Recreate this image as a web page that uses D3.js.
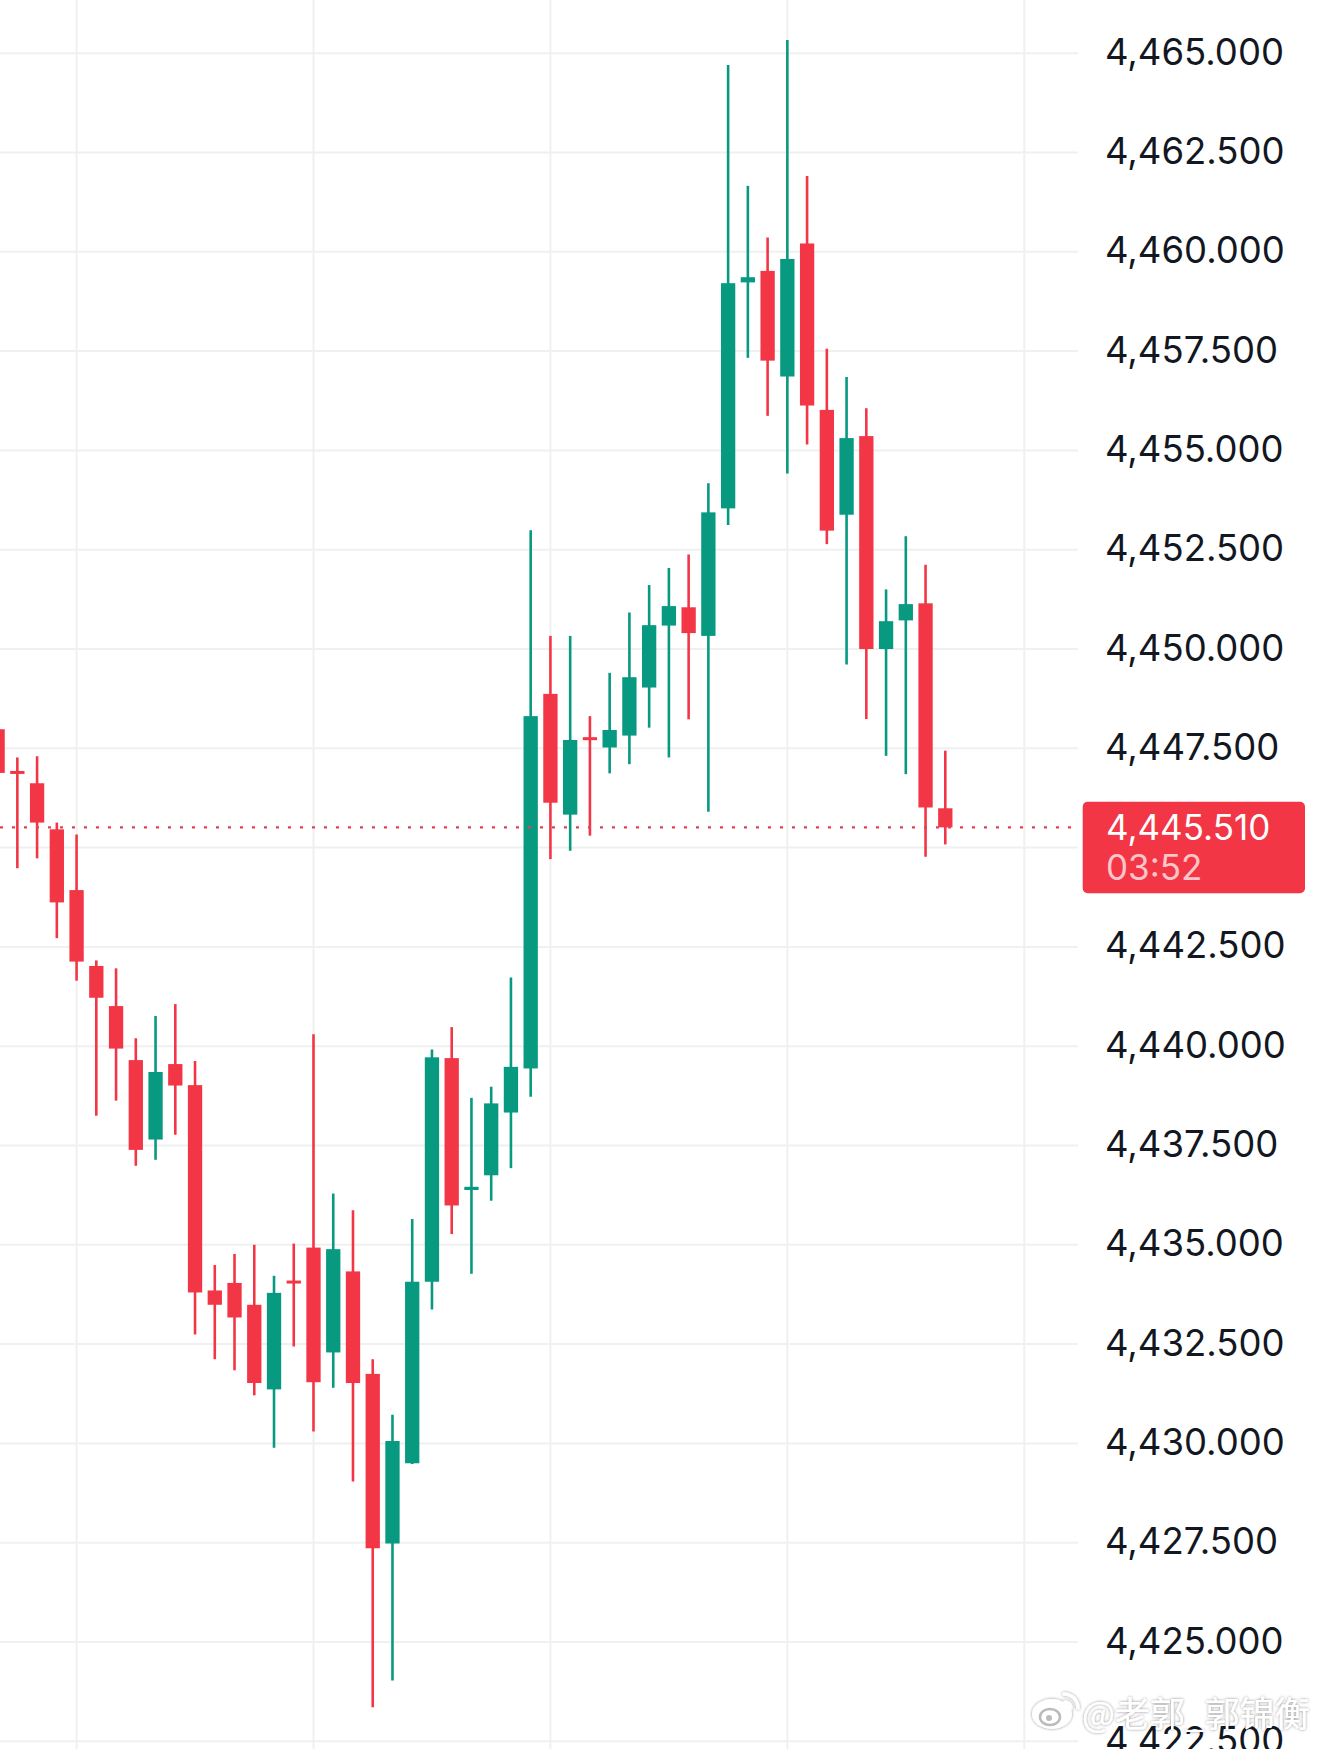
<!DOCTYPE html>
<html>
<head>
<meta charset="utf-8">
<script src="https://cdn.jsdelivr.net/npm/d3@7"></script>
<style>
  html, body { margin: 0; padding: 0; background: #fff; }
  svg { display: block; }
</style>
</head>
<body>
<svg id="chart" width="1320" height="1749"></svg>
<script>
// candle data, index -1 is the half-hidden bar at the left edge
const bars   = [-1, 0, 1, 2, 3, 4, 5, 6, 7, 8, 9, 10, 11, 12, 13, 14, 15, 16, 17, 18, 19, 20, 21, 22, 23,
                24, 25, 26, 27, 28, 29, 30, 31, 32, 33, 34, 35, 36, 37, 38, 39, 40, 41, 42, 43, 44, 45, 46, 47];
const opens  = [4447.98, 4446.93, 4446.62, 4445.46, 4443.93, 4442.02, 4441.01, 4439.65, 4437.65, 4439.55,
                4439.02, 4433.85, 4434.04, 4433.49, 4431.36, 4434.10, 4434.93, 4432.29, 4434.33, 4431.75,
                4427.48, 4429.50, 4434.07, 4439.70, 4436.38, 4436.75, 4438.33, 4439.44, 4448.87, 4445.83,
                4447.78, 4447.52, 4447.82, 4449.03, 4450.59, 4451.05, 4450.33, 4453.54, 4459.23, 4459.52,
                4456.86, 4460.21, 4456.02, 4453.38, 4455.36, 4450.00, 4450.72, 4451.15, 4445.99];
const highs  = [4448.30, 4447.27, 4447.30, 4445.63, 4445.33, 4442.16, 4441.96, 4440.20, 4440.76, 4441.06,
                4439.63, 4434.49, 4434.77, 4435.00, 4434.22, 4435.03, 4440.30, 4436.29, 4435.87, 4432.12,
                4430.72, 4435.65, 4439.92, 4440.48, 4438.70, 4438.98, 4441.73, 4452.99, 4450.33, 4450.33,
                4448.31, 4449.40, 4450.92, 4451.61, 4452.04, 4452.38, 4454.17, 4464.70, 4461.66, 4460.36,
                4465.33, 4461.91, 4457.56, 4456.85, 4456.06, 4451.50, 4452.84, 4452.12, 4447.44];
const lows   = [4446.70, 4444.48, 4444.73, 4442.72, 4441.65, 4438.25, 4438.63, 4436.99, 4437.14, 4437.77,
                4432.74, 4432.12, 4431.84, 4431.21, 4429.89, 4432.44, 4430.30, 4431.40, 4429.04, 4423.36,
                4424.03, 4429.48, 4433.37, 4435.27, 4434.27, 4436.11, 4436.93, 4438.73, 4444.71, 4444.92,
                4445.30, 4446.87, 4447.10, 4448.02, 4447.27, 4448.23, 4445.90, 4453.12, 4457.33, 4455.87,
                4454.42, 4455.15, 4452.64, 4449.61, 4448.24, 4447.31, 4446.85, 4444.77, 4445.08];
const closes = [4446.88, 4446.89, 4445.63, 4443.62, 4442.13, 4441.22, 4439.94, 4437.39, 4439.35, 4439.01,
                4433.80, 4433.49, 4433.17, 4431.52, 4433.79, 4434.04, 4431.54, 4434.89, 4431.52, 4427.36,
                4430.06, 4434.07, 4439.72, 4435.99, 4436.46, 4438.56, 4439.48, 4448.31, 4446.13, 4447.71,
                4447.72, 4447.96, 4449.29, 4450.60, 4451.08, 4450.40, 4453.44, 4459.21, 4459.36, 4457.26,
                4459.82, 4456.13, 4452.98, 4455.31, 4450.00, 4450.70, 4451.13, 4446.01, 4445.51];

const priceTicks = [4465, 4462.5, 4460, 4457.5, 4455, 4452.5, 4450, 4447.5, 4445,
                    4442.5, 4440, 4437.5, 4435, 4432.5, 4430, 4427.5, 4425, 4422.5];
const timeGrid = [3, 15, 27, 39, 51];

const lastPrice = 4445.51;
const countdown = "03:52";
const watermark = "@老郭_郭锦衡";

const up = "#089981", down = "#f23645";

const svg = d3.select("#chart");
const width = +svg.attr("width");
const height = +svg.attr("height");
const plotRight = 1078;

const x = d3.scaleLinear().domain([-1, 47]).range([-2.4, 945.3]);
const y = d3.scaleLinear().domain([4465, 4422.5]).range([53.2, 1741.3]);

const fmt = d3.format(",.3f");

// grid
svg.append("g").selectAll("line")
  .data(priceTicks)
  .join("line")
  .attr("x1", 0).attr("x2", plotRight)
  .attr("y1", d => y(d)).attr("y2", d => y(d))
  .attr("stroke", "#f0f0f0").attr("stroke-width", 2);

svg.append("g").selectAll("line")
  .data(timeGrid)
  .join("line")
  .attr("x1", d => x(d)).attr("x2", d => x(d))
  .attr("y1", 0).attr("y2", height)
  .attr("stroke", "#f0f0f0").attr("stroke-width", 2);

// candles
const data = bars.map((b, i) => ({ i: b, o: opens[i], h: highs[i], l: lows[i], c: closes[i] }));
const bodyW = 14.3;

const candles = svg.append("g").selectAll("g")
  .data(data)
  .join("g");

candles.append("line")
  .attr("x1", d => x(d.i)).attr("x2", d => x(d.i))
  .attr("y1", d => y(d.h)).attr("y2", d => y(d.l))
  .attr("stroke", d => d.c >= d.o ? up : down)
  .attr("stroke-width", 2.6);

candles.append("rect")
  .attr("x", d => x(d.i) - bodyW / 2)
  .attr("width", bodyW)
  .attr("y", d => y(Math.max(d.o, d.c)))
  .attr("height", d => Math.max(3, Math.abs(y(d.o) - y(d.c))))
  .attr("fill", d => d.c >= d.o ? up : down);

// last price line
svg.append("line")
  .attr("x1", 0).attr("x2", plotRight)
  .attr("y1", y(lastPrice)).attr("y2", y(lastPrice))
  .attr("stroke", "#e04452").attr("stroke-width", 2.4)
  .attr("stroke-dasharray", "3,9");

// price scale labels
svg.append("g").selectAll("text")
  .data(priceTicks.filter(d => Math.abs(y(d) - y(lastPrice)) > 45))
  .join("text")
  .attr("x", 1105)
  .attr("y", d => y(d) + 11.5)
  .attr("font-family", "Inter, 'Noto Sans', sans-serif")
  .attr("font-size", 36.5)
  .attr("fill", "#131722")
  .text(d => fmt(d));

// last price badge
const badge = svg.append("g");
badge.append("rect")
  .attr("x", 1082.7).attr("y", 801.7)
  .attr("width", 222.3).attr("height", 91.6)
  .attr("rx", 5)
  .attr("fill", down);
badge.append("text")
  .attr("x", 1106).attr("y", 840)
  .attr("font-family", "Inter, 'Noto Sans', sans-serif")
  .attr("font-size", 35)
  .attr("fill", "#fff")
  .text(fmt(lastPrice));
badge.append("text")
  .attr("x", 1106).attr("y", 879.5)
  .attr("font-family", "Inter, 'Noto Sans', sans-serif")
  .attr("font-size", 35)
  .attr("fill", "#fff").attr("fill-opacity", 0.72)
  .text(countdown);

// watermark
const defs = svg.append("defs");
const f = defs.append("filter").attr("id", "wm").attr("x", "-20%").attr("y", "-40%").attr("width", "140%").attr("height", "180%");
f.append("feDropShadow").attr("dx", 0).attr("dy", 0).attr("stdDeviation", 1.6)
  .attr("flood-color", "#000").attr("flood-opacity", 0.45);

const wm = svg.append("g").attr("filter", "url(#wm)");
const logo = wm.append("g").attr("transform", "translate(1052,1714)");
logo.append("ellipse").attr("rx", 20).attr("ry", 15).attr("fill", "#fff");
logo.append("ellipse").attr("cx", -2).attr("cy", 3).attr("rx", 10).attr("ry", 8)
  .attr("fill", "none").attr("stroke", "#bbb").attr("stroke-width", 2.5);
logo.append("circle").attr("cx", -3).attr("cy", 4).attr("r", 3).attr("fill", "#bbb");
logo.append("path").attr("d", "M12,-20 A14,14 0 0 1 26,-6")
  .attr("fill", "none").attr("stroke", "#fff").attr("stroke-width", 3.5).attr("stroke-linecap", "round");
logo.append("path").attr("d", "M13,-12 A7,7 0 0 1 19,-6")
  .attr("fill", "none").attr("stroke", "#fff").attr("stroke-width", 3.5).attr("stroke-linecap", "round");
wm.append("text")
  .attr("x", 1082).attr("y", 1727)
  .attr("font-family", "'Noto Sans CJK SC', sans-serif")
  .attr("font-size", 35)
  .attr("fill", "#fff")
  .text(watermark);
</script>
</body>
</html>
